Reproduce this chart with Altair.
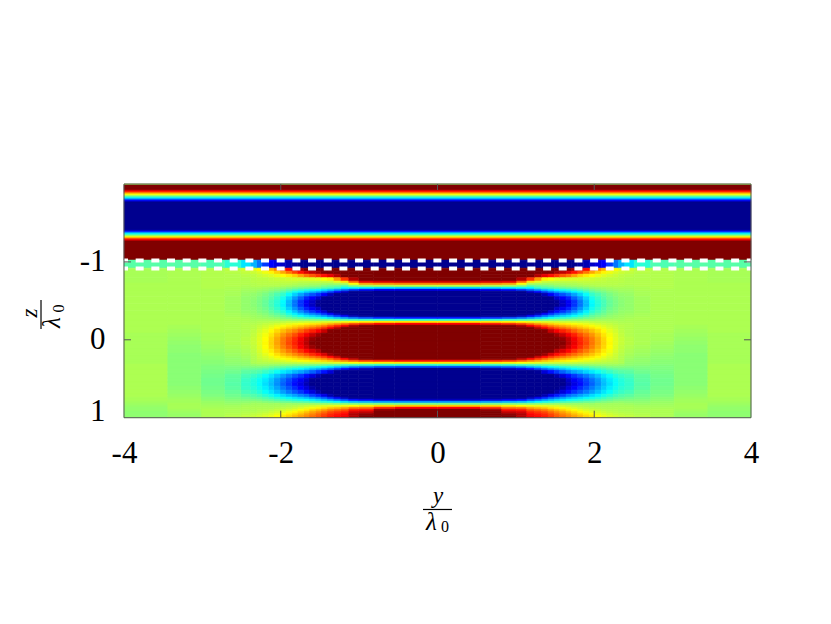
import altair as alt
import pandas as pd

# Field values; they are saturated beyond +/-1.
x_edges = [0, .55, .82, 1.01, 1.14, 1.24, 1.33, 1.41, 1.49, 1.56, 1.64, 1.71, 1.79, 1.86, 1.94, 2.01, 2.09,
           2.16, 2.24, 2.31, 2.39, 2.51, 2.72, 3.02, 3.45, 4.0]
top_z = [-2.0, -1.986, -1.935, -1.922, -1.909, -1.896, -1.883, -1.870, -1.857, -1.845, -1.832, -1.819,
         -1.806, -1.793, -1.781, -1.768, -1.755, -1.408, -1.395, -1.383, -1.370, -1.357, -1.344, -1.331,
         -1.318, -1.306, -1.293, -1.280, -1.267, -1.254, -1.023]
top_v = [.1, 1.3, 1.0, .85, .72, .55, .4, .25, .1, -.05, -.2, -.35, -.55, -.72, -.88, -1.0, -1.3,
         -.9, -.72, -.5, -.3, -.15, 0, .18, .33, .55, .72, .85, 1.0, 1.3]
slab_z = [-1.023, -.920]
slab_v = [-1.5, -1.5, -1.5, -1.45, -1.4, -1.35, -1.3, -1.25, -1.2, -1.12, -1.05, -1.0, -.96, -.92, -.88, -.82,
          -.75, -.64, -.52, -.4, -.3, -.17, -.1, -.08, -.08]
low_z = [-.920, -.882, -.843, -.798, -.754, -.728, -.702, -.677, -.651, -.625, -.600, -.555, -.510, -.465,
         -.420, -.375, -.343, -.317, -.291, -.266, -.240, -.214, -.189, -.163, -.137, -.086, -.035, .017,
         .068, .119, .171, .209, .235, .260, .286, .312, .338, .363, .389, .440, .492, .543, .594, .645,
         .697, .735, .761, .787, .813, .838, .864, .890, .915, .941, .967, 1.0]

c040 = [1.5,1.5,1.5,1.2,.85,.5,.12,-.32,-.8,-1.3,-1.9,-2.4,-2.7,-2.8,-2.5,-2.1,-1.65,-1.2,-.7,-.17,
        .3,.75,1.17,1.56,2,2.6,3,3,2.9,2.5,2,1.55,1.14,.72,.3,
        -.14,-.58,-1.0,-1.6,-2.3,-2.7,-2.8,-2.6,-2.3,-1.75,-1.3,-.9,-.46,-.03,.35,.75,1.1,1.35,1.5,1.6]
c070 = [1.45,1.45,1.45,1.18,.83,.47,.1,-.3,-.78,-1.25,-1.84,-2.35,-2.65,-2.68,-2.4,-2.0,-1.59,-1.14,-.67,-.16,
        .29,.71,1.1,1.46,1.97,2.47,2.81,2.89,2.75,2.36,1.88,1.46,1.07,.68,.29,
        -.13,-.55,-.97,-1.53,-2.21,-2.6,-2.71,-2.51,-2.21,-1.7,-1.25,-.86,-.44,-.02,.32,.66,.95,1.15,1.25,1.3]
c095 = [1.4,1.4,1.4,1.15,.8,.43,.08,-.27,-.72,-1.16,-1.7,-2.2,-2.4,-2.4,-2.2,-1.85,-1.47,-1.05,-.61,-.14,
        .27,.66,1.03,1.36,1.8,2.3,2.6,2.7,2.6,2.2,1.75,1.36,1.0,.64,.27,
        -.12,-.51,-.9,-1.4,-2,-2.4,-2.5,-2.3,-2,-1.57,-1.16,-.79,-.4,-.01,.28,.52,.72,.85,.95,1.0]
c108 = [1.4,1.3,1.2,.9,.55,.25,.02,-.24,-.64,-1.04,-1.53,-1.95,-2.21,-2.24,-2.0,-1.67,-1.32,-.94,-.54,-.12,
        .25,.6,.92,1.22,1.63,2.05,2.32,2.39,2.27,1.95,1.56,1.22,.9,.57,.25,
        -.1,-.46,-.82,-1.3,-1.88,-2.21,-2.31,-2.14,-1.88,-1.45,-1.06,-.73,-.37,-.01,.25,.5,.7,.82,.9,.9]
c120 = [1.4,1.2,1.0,.65,.3,.1,-.07,-.25,-.53,-.87,-1.29,-1.65,-1.87,-1.89,-1.69,-1.41,-1.11,-.79,-.45,-.09,
        .22,.51,.77,1.02,1.36,1.7,1.93,2.0,1.9,1.63,1.3,1.02,.76,.49,.22,
        -.08,-.39,-.71,-1.13,-1.63,-1.93,-2.0,-1.86,-1.64,-1.25,-.92,-.62,-.31,.0,.22,.42,.58,.68,.74,.78]
c129 = [1.35,1.12,.9,.45,.2,.08,-.04,-.15,-.44,-.73,-1.08,-1.39,-1.58,-1.59,-1.42,-1.18,-.93,-.66,-.37,-.06,
        .2,.44,.67,.87,1.16,1.45,1.64,1.69,1.61,1.39,1.11,.87,.65,.43,.2,
        -.06,-.34,-.61,-.98,-1.43,-1.69,-1.76,-1.63,-1.43,-1.09,-.8,-.54,-.26,.02,.21,.38,.54,.64,.7,.74]
c138 = [1.3,1.05,.8,.28,.14,.06,-.02,-.11,-.36,-.61,-.91,-1.17,-1.33,-1.35,-1.2,-1.0,-.78,-.55,-.3,-.04,
        .18,.39,.58,.75,.99,1.24,1.4,1.44,1.37,1.18,.95,.75,.56,.37,.18,
        -.04,-.28,-.52,-.84,-1.22,-1.45,-1.51,-1.4,-1.23,-.93,-.68,-.45,-.21,.03,.2,.35,.5,.6,.66,.7]
c145 = [1.22,1.0,.72,.24,.13,.07,.0,-.09,-.3,-.51,-.77,-.99,-1.14,-1.15,-1.02,-.85,-.66,-.46,-.25,-.02,
        .17,.34,.5,.65,.86,1.07,1.21,1.24,1.18,1.02,.83,.65,.49,.33,.17,
        -.02,-.23,-.44,-.72,-1.06,-1.25,-1.31,-1.21,-1.06,-.81,-.58,-.39,-.18,.03,.18,.3,.43,.53,.6,.64]
c153 = [1.15,.93,.65,.2,.12,.08,.03,-.06,-.25,-.43,-.66,-.86,-.98,-.99,-.88,-.73,-.56,-.39,-.2,-.01,
        .16,.31,.45,.58,.76,.94,1.06,1.09,1.04,.9,.73,.58,.44,.3,.16,
        -.01,-.2,-.39,-.64,-.93,-1.11,-1.16,-1.07,-.94,-.7,-.51,-.33,-.15,.04,.17,.27,.38,.47,.54,.58]
c160 = [1.08,.88,.58,.19,.12,.08,.04,-.05,-.21,-.38,-.59,-.76,-.87,-.88,-.78,-.65,-.5,-.34,-.17,.0,
        .15,.29,.41,.53,.69,.86,.96,.99,.95,.82,.67,.53,.4,.28,.15,
        .0,-.17,-.34,-.56,-.83,-.99,-1.03,-.95,-.83,-.63,-.45,-.29,-.12,.05,.15,.23,.33,.42,.48,.53]
c168 = [1.0,.82,.52,.18,.12,.09,.05,-.03,-.18,-.33,-.52,-.68,-.77,-.78,-.69,-.57,-.44,-.3,-.15,.01,
        .15,.27,.38,.48,.63,.77,.87,.89,.85,.74,.6,.48,.37,.26,.15,
        .01,-.14,-.29,-.49,-.73,-.87,-.91,-.84,-.73,-.54,-.39,-.25,-.1,.05,.13,.2,.28,.36,.43,.48]
c175 = [.93,.72,.43,.17,.12,.09,.06,-.02,-.14,-.27,-.43,-.56,-.65,-.65,-.58,-.47,-.36,-.24,-.11,.02,
        .14,.24,.34,.43,.56,.69,.77,.79,.76,.66,.54,.43,.34,.24,.14,
        .02,-.12,-.25,-.43,-.65,-.77,-.81,-.75,-.65,-.49,-.34,-.22,-.08,.05,.11,.17,.24,.31,.37,.43]
c183 = [.85,.62,.34,.17,.13,.1,.07,.0,-.1,-.21,-.34,-.45,-.52,-.52,-.46,-.37,-.28,-.18,-.08,.03,
        .13,.22,.31,.38,.49,.6,.67,.69,.66,.58,.48,.38,.3,.22,.13,
        .02,-.1,-.22,-.39,-.58,-.7,-.73,-.67,-.58,-.43,-.3,-.19,-.07,.05,.1,.14,.2,.26,.32,.38]
c190 = [.74,.52,.29,.16,.13,.11,.08,.02,-.06,-.14,-.24,-.33,-.38,-.39,-.34,-.27,-.2,-.12,-.04,.05,
        .13,.2,.28,.34,.44,.53,.59,.61,.58,.51,.42,.34,.27,.2,.13,
        .03,-.08,-.19,-.33,-.51,-.61,-.64,-.59,-.51,-.38,-.26,-.16,-.05,.06,.09,.12,.17,.22,.28,.33]
c198 = [.62,.42,.25,.15,.13,.11,.09,.04,-.02,-.08,-.15,-.21,-.25,-.26,-.22,-.17,-.12,-.06,-.01,.05,
        .12,.18,.24,.3,.38,.46,.51,.52,.5,.44,.37,.3,.24,.18,.12,
        .04,-.06,-.15,-.29,-.44,-.53,-.56,-.51,-.44,-.32,-.22,-.13,-.04,.05,.08,.11,.15,.19,.24,.29]
c205 = [.5,.34,.21,.14,.12,.11,.1,.05,.01,-.04,-.1,-.14,-.17,-.18,-.15,-.11,-.07,-.03,.02,.07,
        .11,.16,.21,.26,.32,.38,.42,.43,.41,.37,.31,.26,.21,.16,.11,
        .05,-.04,-.12,-.23,-.37,-.45,-.47,-.43,-.37,-.27,-.18,-.1,-.02,.07,.08,.1,.13,.16,.2,.25]
c213 = [.4,.27,.18,.13,.12,.11,.1,.06,.03,-.01,-.05,-.08,-.11,-.11,-.09,-.06,-.03,.0,.04,.07,
        .11,.14,.18,.21,.26,.3,.33,.34,.33,.29,.25,.21,.18,.14,.11,
        .05,-.02,-.09,-.18,-.3,-.36,-.38,-.35,-.3,-.21,-.14,-.07,.0,.06,.08,.09,.11,.14,.17,.21]
c220 = [.32,.22,.16,.12,.11,.11,.1,.07,.05,.02,-.01,-.03,-.05,-.05,-.03,-.01,.01,.03,.05,.08,
        .1,.13,.15,.17,.2,.23,.25,.26,.25,.23,.2,.17,.15,.13,.1,
        .06,.0,-.06,-.14,-.24,-.29,-.31,-.28,-.24,-.17,-.1,-.05,.01,.07,.08,.09,.1,.12,.15,.18]
c228 = [.25,.18,.14,.12,.11,.11,.1,.08,.06,.04,.02,.0,-.01,-.01,.0,.01,.03,.05,.06,.08,
        .1,.11,.13,.14,.16,.18,.19,.19,.18,.17,.15,.14,.13,.11,.1,
        .06,.01,-.04,-.1,-.18,-.23,-.24,-.22,-.18,-.12,-.07,-.02,.03,.07,.08,.09,.1,.11,.13,.16]
c235 = [.2,.15,.12,.11,.11,.1,.1,.08,.07,.06,.04,.03,.02,.02,.03,.04,.05,.06,.07,.08,
        .09,.1,.11,.11,.12,.13,.14,.14,.13,.12,.11,.1,.1,.09,.09,
        .05,.01,-.03,-.08,-.14,-.18,-.19,-.17,-.14,-.09,-.05,-.01,.04,.07,.08,.09,.09,.1,.12,.14]
c243 = [.16,.13,.11,.1,.1,.1,.09,.08,.07,.06,.05,.04,.04,.04,.04,.05,.06,.07,.08,.09,
        .09,.1,.1,.1,.1,.1,.11,.11,.1,.09,.08,.07,.06,.05,.04,
        .03,.0,-.03,-.07,-.11,-.14,-.15,-.14,-.11,-.07,-.03,.0,.03,.06,.08,.09,.09,.1,.11,.13]
c260 = [.12,.11,.1,.1,.1,.1,.1,.09,.09,.08,.08,.07,.07,.07,.07,.07,.08,.08,.09,.09,
        .09,.09,.09,.09,.09,.09,.09,.09,.08,.07,.06,.05,.04,.04,.03,
        .02,.0,-.01,-.03,-.06,-.07,-.08,-.07,-.05,-.03,-.01,.01,.03,.05,.07,.08,.09,.09,.1,.11]
c285 = [.1,.1,.1,.1,.1,.1,.1,.1,.09,.09,.09,.09,.09,.09,.09,.09,.09,.09,.09,.09,
        .09,.09,.09,.09,.09,.08,.08,.07,.06,.05,.04,.03,.03,.02,.02,
        .01,.0,.0,-.01,-.02,-.03,-.03,-.02,-.01,.0,.02,.03,.05,.06,.07,.08,.09,.09,.09,.09]
c320 = [.09,.09,.09,.09,.09,.09,.09,.09,.09,.09,.09,.09,.09,.09,.09,.09,.09,.09,.09,.09,
        .09,.09,.08,.08,.07,.06,.05,.04,.03,.03,.02,.02,.02,.02,.02,
        .02,.02,.02,.02,.02,.02,.02,.03,.04,.05,.06,.07,.07,.08,.08,.08,.07,.06,.05,.05]
c370 = [.08,.08,.08,.08,.08,.09,.09,.09,.09,.09,.09,.09,.09,.09,.09,.09,.09,.09,.09,.09,
        .09,.09,.09,.09,.09,.08,.08,.08,.08,.08,.08,.08,.08,.08,.08,
        .09,.09,.09,.09,.09,.09,.09,.09,.09,.09,.08,.08,.07,.06,.05,.04,.04,.03,.03,.03]
columns = [c040, c070, c095, c108, c120, c129, c138, c145, c153, c160, c168, c175, c183, c190, c198,
           c205, c213, c220, c228, c235, c243, c260, c285, c320, c370]
assert len(columns) == len(x_edges) - 1 == len(slab_v)
for c in columns:
    assert len(c) == len(low_z) - 1, len(c)

x_ticks = [-4, -2, 0, 2, 4]
z_ticks = [-1, 0, 1]
inner_x_ticks = [-2, 0, 2]
inner_z_ticks = [-1, 0]
interfaces = [-1.017, -.914]

rows = []
for i in range(len(top_v)):
    rows.append(dict(x0=-4, x1=4, z0=top_z[i], z1=top_z[i + 1], v=top_v[i]))
for j, c in enumerate(columns):
    for sign in (-1, 1):
        a, b = sign * x_edges[j], sign * x_edges[j + 1]
        rows.append(dict(x0=a, x1=b, z0=slab_z[0], z1=slab_z[1], v=slab_v[j]))
        for i, val in enumerate(c):
            rows.append(dict(x0=a, x1=b, z0=low_z[i], z1=low_z[i + 1], v=val))
field = pd.DataFrame(rows)

W, H = 627, 233.7
FONT = "Liberation Serif"
GREY = "#555555"
xs = alt.Scale(domain=[-4, 4], nice=False, zero=False)
zs = alt.Scale(domain=[1, -2], nice=False, zero=False)
jet = alt.Scale(domain=[-1, -.75, -.25, .25, .75, 1],
                range=["#00008f", "#0000ff", "#00ffff", "#ffff00", "#ff0000", "#800000"],
                clamp=True, interpolate="rgb")

heat = alt.Chart(field).mark_rect(strokeWidth=0.6).encode(
    x=alt.X("x0:Q", scale=xs, axis=alt.Axis(values=x_ticks, title=None, grid=False, domain=False, ticks=False,
                                            labelFont=FONT, labelFontSize=31, labelColor="black", labelPadding=21,
                                            labelFlush=False, labelExpr="'' + datum.value")),
    x2="x1:Q",
    y=alt.Y("z0:Q", scale=zs, axis=alt.Axis(values=z_ticks, title=None, grid=False, domain=False, ticks=False,
                                            labelFont=FONT, labelFontSize=31, labelColor="black", labelPadding=19,
                                            labelFlush=True, labelFlushOffset=10, labelExpr="'' + datum.value")),
    y2="z1:Q",
    fill=alt.Fill("v:Q", scale=jet, legend=None),
    stroke=alt.Stroke("v:Q", scale=jet, legend=None),
)

dashes = alt.Chart(pd.DataFrame({"z": interfaces})).mark_rule(
    color="white", strokeWidth=4, strokeDash=[8, 7.67], strokeDashOffset=4
).encode(y=alt.Y("z:Q", scale=zs), x=alt.value(0), x2=alt.value(W))

frame = alt.Chart(pd.DataFrame({"x0": [-4], "x1": [4], "z0": [-2], "z1": [1]})).mark_rect(
    fillOpacity=0, stroke=GREY, strokeWidth=1
).encode(x=alt.X("x0:Q", scale=xs), x2="x1:Q", y=alt.Y("z0:Q", scale=zs), y2="z1:Q")

xdf = pd.DataFrame({"x": inner_x_ticks})
zdf = pd.DataFrame({"z": inner_z_ticks})
tick_style = dict(color=GREY, strokeWidth=1)
ticks = [
    alt.Chart(xdf).mark_rule(**tick_style).encode(x=alt.X("x:Q", scale=xs), y=alt.value(0), y2=alt.value(6)),
    alt.Chart(xdf).mark_rule(**tick_style).encode(x=alt.X("x:Q", scale=xs), y=alt.value(H - 7), y2=alt.value(H)),
    alt.Chart(zdf).mark_rule(**tick_style).encode(y=alt.Y("z:Q", scale=zs), x=alt.value(0), x2=alt.value(7)),
    alt.Chart(zdf).mark_rule(**tick_style).encode(y=alt.Y("z:Q", scale=zs), x=alt.value(W - 7), x2=alt.value(W)),
]


def label(text, px, py, size, italic=False, angle=0):
    kw = dict(font=FONT, fontSize=size, color="black", align="center", baseline="alphabetic", angle=angle)
    if italic:
        kw["fontStyle"] = "italic"
    return alt.Chart(pd.DataFrame({"t": [text]})).mark_text(**kw).encode(
        x=alt.value(px), y=alt.value(py), text="t:N")


titles = [
    label("y", 314, 319, 23, True),
    label("λ", 307.5, 346, 25, True),
    label("0", 321, 348, 16),
    alt.Chart(pd.DataFrame({"a": [0]})).mark_rule(color="black", strokeWidth=1.2).encode(
        x=alt.value(299), x2=alt.value(328), y=alt.value(325.5)),
    label("z", -87, 129, 23, True, 270),
    label("λ", -64, 138.5, 25, True, 270),
    label("0", -60, 124.5, 16, False, 270),
    alt.Chart(pd.DataFrame({"a": [0]})).mark_rule(color="black", strokeWidth=1.2).encode(
        y=alt.value(116), y2=alt.value(145), x=alt.value(-83)),
]

chart = alt.layer(heat, dashes, frame, *ticks, *titles).properties(
    width=W, height=H,
    autosize=alt.AutoSizeParams(type="none"),
    padding={"left": 116, "top": 176, "right": 72, "bottom": 198},
).configure_view(stroke=None).resolve_scale(fill="shared", stroke="shared")

chart.save("out.html", embed_options={"renderer": "svg", "actions": False})
